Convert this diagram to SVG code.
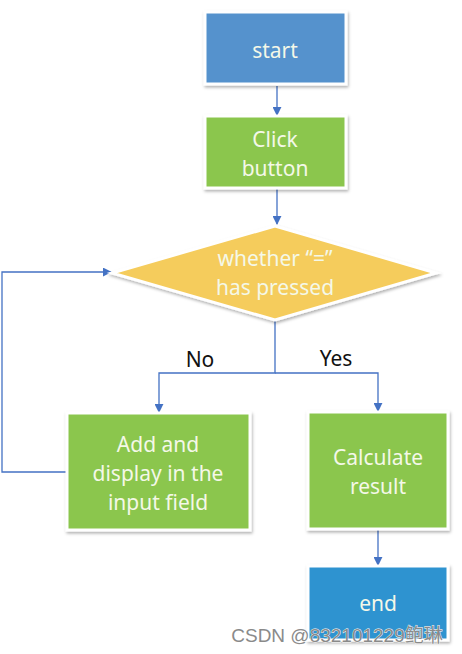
<svg xmlns="http://www.w3.org/2000/svg" width="462" height="654" viewBox="0 0 462 654">
<defs>
<filter id="sh" x="-10%" y="-10%" width="120%" height="130%">
<feDropShadow dx="1" dy="2" stdDeviation="1.5" flood-color="#000" flood-opacity="0.3"/>
</filter>
<marker id="ar" viewBox="0 0 10 10" refX="9" refY="5" markerWidth="9" markerHeight="9" markerUnits="userSpaceOnUse" orient="auto">
<path d="M0,0 L10,5 L0,10 z" fill="#4472C4"/>
</marker>
</defs>
<style>
.box{stroke:#fff;stroke-width:3;filter:url(#sh)}
.t{font-family:"Noto Sans","Liberation Sans",sans-serif;font-size:21px;fill:#F4F8E8;text-anchor:middle;dominant-baseline:central}
.lbl{font-family:"Noto Sans","Liberation Sans",sans-serif;font-size:21px;fill:#111;text-anchor:middle}
.c{fill:none;stroke:#4472C4;stroke-width:1.3}
</style>
<rect width="462" height="654" fill="#fff"/>
<g id="connectors">
<path class="c" d="M277,86 V115" marker-end="url(#ar)"/>
<path class="c" d="M277,188 V224" marker-end="url(#ar)"/>
<path class="c" d="M275,320 V373 H159 V412" marker-end="url(#ar)"/>
<path class="c" d="M275,373 H378 V411" marker-end="url(#ar)"/>
<path class="c" d="M378,530 V565" marker-end="url(#ar)"/>
<path class="c" d="M68,472 H2 V272 H111" marker-end="url(#ar)"/>
<text class="lbl" x="200" y="367">No</text>
<text class="lbl" x="336" y="366">Yes</text>
</g>
<g id="start">
<rect class="box" x="205" y="12" width="141" height="72" fill="#5592CD"/>
<text class="t" x="275" y="50">start</text>
</g>
<g id="click">
<rect class="box" x="205" y="116" width="141" height="72" fill="#8BC64E"/>
<text class="t" x="275" y="139">Click</text>
<text class="t" x="275" y="168">button</text>
</g>
<g id="decision">
<polygon class="box" points="112,273 275,226 436,273 275,320" fill="#F5CC5C"/>
<text class="t" x="275" y="258">whether “=”</text>
<text class="t" x="275" y="287">has pressed</text>
</g>
<g id="add">
<rect class="box" x="67" y="413" width="183" height="117" fill="#8BC64E"/>
<text class="t" x="158" y="444">Add and</text>
<text class="t" x="158" y="473">display in the</text>
<text class="t" x="158" y="502">input field</text>
</g>
<g id="calc">
<rect class="box" x="308" y="412" width="140" height="117" fill="#8BC64E"/>
<text class="t" x="378" y="457">Calculate</text>
<text class="t" x="378" y="486">result</text>
</g>
<g id="end">
<rect class="box" x="308" y="566" width="140" height="74" fill="#2E93D0"/>
<text class="t" x="378" y="603">end</text>
</g>
<text x="337" y="642" font-family="'Liberation Sans','Noto Sans CJK SC',sans-serif" font-size="19" fill="#8a8a8a" stroke="#fff" stroke-width="0.8" paint-order="stroke" text-anchor="middle">CSDN @832101229鲍琳</text>
</svg>
